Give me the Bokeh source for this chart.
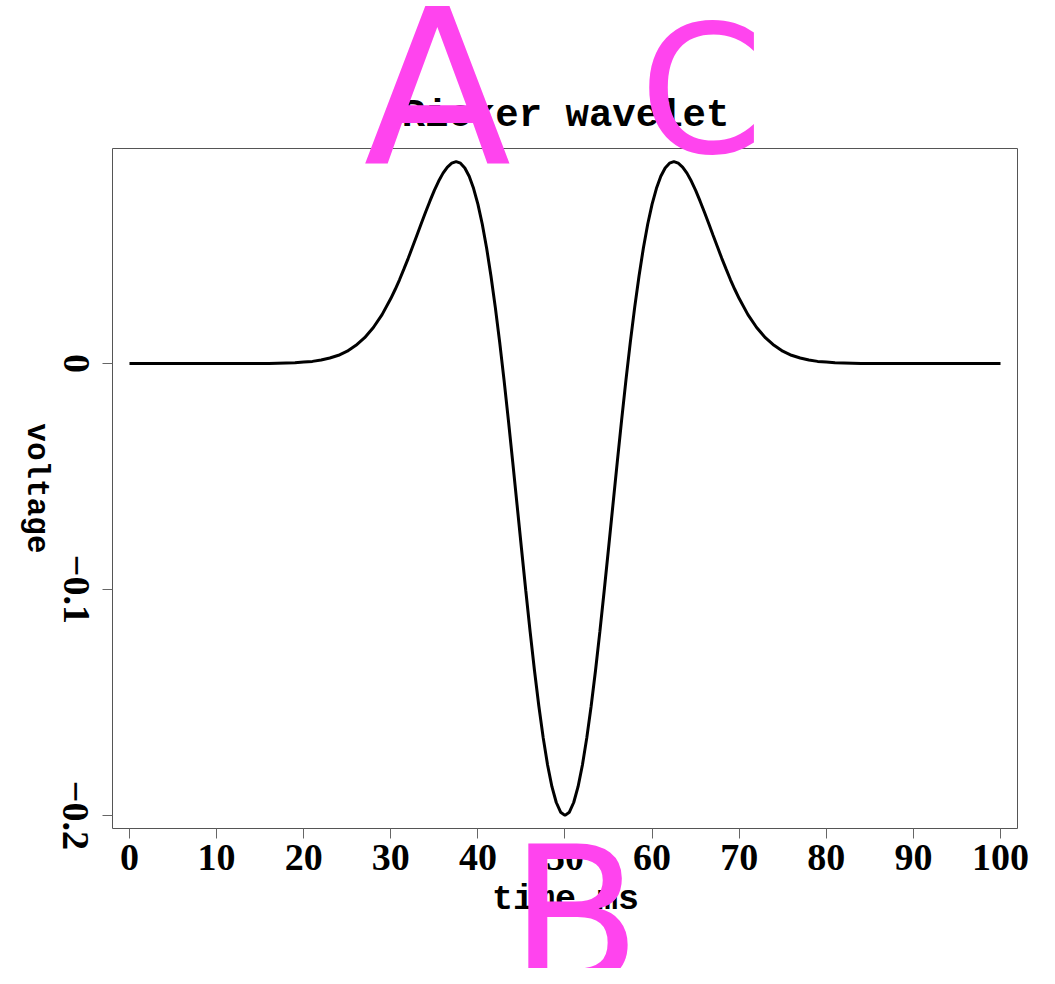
import math
from bokeh.plotting import figure
from bokeh.models import Range1d, FixedTicker, LinearAxis, Label
from bokeh.embed import file_html
from bokeh.resources import INLINE

# ---- data ----
time_ms = list(range(0, 30)) + [30 + 0.5 * i for i in range(81)] + list(range(71, 101))
voltage = (
    [0.0] * 17
    + [0.0001, 0.0002, 0.0003, 0.0006, 0.0009, 0.0015, 0.0024, 0.0036, 0.0054,
       0.0080, 0.0114, 0.0159, 0.0216]
    + [0.0287, 0.0327, 0.0370, 0.0417, 0.0465, 0.0516, 0.0567, 0.0619, 0.0670, 0.0719,
       0.0766, 0.0807, 0.0842, 0.0869, 0.0886, 0.0893, 0.0886, 0.0865, 0.0828, 0.0775,
       0.0705, 0.0617, 0.0511, 0.0387, 0.0248, 0.0094, -0.0073, -0.0251, -0.0437, -0.0627,
       -0.0818, -0.1006, -0.1188, -0.1360, -0.1517, -0.1657, -0.1777, -0.1873, -0.1943, -0.1986,
       -0.2000,
       -0.1986, -0.1943, -0.1873, -0.1777, -0.1657, -0.1517, -0.1360, -0.1188, -0.1006, -0.0818,
       -0.0627, -0.0437, -0.0251, -0.0073, 0.0094, 0.0248, 0.0387, 0.0511, 0.0617, 0.0705,
       0.0775, 0.0828, 0.0865, 0.0886, 0.0893, 0.0886, 0.0869, 0.0842, 0.0807, 0.0766,
       0.0719, 0.0670, 0.0619, 0.0567, 0.0516, 0.0465, 0.0417, 0.0370, 0.0327, 0.0287]
    + [0.0216, 0.0159, 0.0114, 0.0080, 0.0054, 0.0036, 0.0024, 0.0015, 0.0009, 0.0006,
       0.0003, 0.0002, 0.0001]
    + [0.0] * 17
)
x_ticks = [0, 10, 20, 30, 40, 50, 60, 70, 80, 90, 100]
y_ticks = [-0.2, -0.1, 0.0]
y_tick_labels = ["\u22120.2", "\u22120.1", "0"]
title_text = "Ricker wavelet"
x_label = "time ms"
y_label = "voltage"
marks = ["A", "B", "C"]

# visible plotting box (data limits)
X0, X1 = -1.95, 101.95
Y0, Y1 = -0.2058, 0.0951

W, H = 1039, 968
# the Bokeh frame covers the whole canvas so that no text is clipped;
# the visible box is drawn by pinned axes
p = figure(width=W, height=H, output_backend="svg", toolbar_location=None,
           x_range=Range1d(-14.808, 104.476), y_range=Range1d(-0.26775, 0.16059),
           min_border=0)
p.title.visible = False
p.grid.visible = False
p.background_fill_color = "white"
p.border_fill_color = "white"
p.outline_line_color = None

p.line(time_ms, voltage, line_color="black", line_width=3)

tick_font = "Liberation Serif"
box_color = "#555555"
tick_color = "#666666"

# bottom axis with ticks and labels
xa = p.xaxis[0]
xa.fixed_location = Y0
xa.bounds = (X0, X1)
xa.ticker = FixedTicker(ticks=x_ticks)
xa.axis_line_color = box_color
xa.major_tick_line_color = tick_color
xa.major_tick_out = 10
xa.major_tick_in = 0
xa.minor_tick_line_color = None
xa.major_label_text_font = tick_font
xa.major_label_text_font_style = "bold"
xa.major_label_text_font_size = "38px"
xa.major_label_text_color = "black"
xa.major_label_standoff = 6

# left edge of the box: a right-type axis so the labels read top to bottom,
# centred on their ticks
p.left = []
ya = LinearAxis(fixed_location=X0, bounds=(Y0, Y1), ticker=FixedTicker(ticks=y_ticks),
                major_label_overrides={t: s for t, s in zip(y_ticks, y_tick_labels)},
                axis_line_color=box_color, major_tick_line_color=tick_color,
                major_tick_in=10, major_tick_out=0, minor_tick_line_color=None,
                major_label_orientation="parallel", major_label_standoff=-49,
                major_label_text_font=tick_font, major_label_text_font_style="bold",
                major_label_text_font_size="38px", major_label_text_color="black")
p.add_layout(ya, "right")

# top and right edges of the box
p.add_layout(LinearAxis(fixed_location=Y1, bounds=(X0, X1), ticker=FixedTicker(ticks=[]),
                        axis_line_color=box_color, minor_tick_line_color=None), "above")
p.add_layout(LinearAxis(fixed_location=X1, bounds=(Y0, Y1), ticker=FixedTicker(ticks=[]),
                        axis_line_color=box_color, minor_tick_line_color=None), "right")

mono = "Liberation Mono"
p.add_layout(Label(x=50.06, y=0.1097, text=title_text, text_font=mono,
                   text_font_style="bold", text_font_size="39px",
                   text_align="center", text_baseline="alphabetic", text_color="black"))
p.add_layout(Label(x=50.06, y=-0.2376, text=x_label, text_font=mono,
                   text_font_style="bold", text_font_size="35px",
                   text_align="center", text_baseline="alphabetic", text_color="black"))
p.add_layout(Label(x=-10.67, y=-0.0553, text=y_label, text_font=mono,
                   text_font_style="bold", text_font_size="31px", angle=-math.pi / 2,
                   text_align="center", text_baseline="alphabetic", text_color="black"))

magenta = "#ff44ee"
p.add_layout(Label(x=35.36, y=0.1216, text=marks[0], text_font="DejaVu Sans",
                   text_font_size="216px", text_align="center",
                   text_baseline="alphabetic", text_color=magenta))
p.add_layout(Label(x=51.2, y=-0.2452, text=marks[1], text_font="DejaVu Sans",
                   text_font_size="192px", text_align="center",
                   text_baseline="alphabetic", text_color=magenta))
p.add_layout(Label(x=65.67, y=0.1206, text=marks[2], text_font="DejaVu Sans",
                   text_font_size="178px", text_align="center",
                   text_baseline="alphabetic", text_color=magenta))

open("out.html", "w").write(file_html(p, INLINE))
